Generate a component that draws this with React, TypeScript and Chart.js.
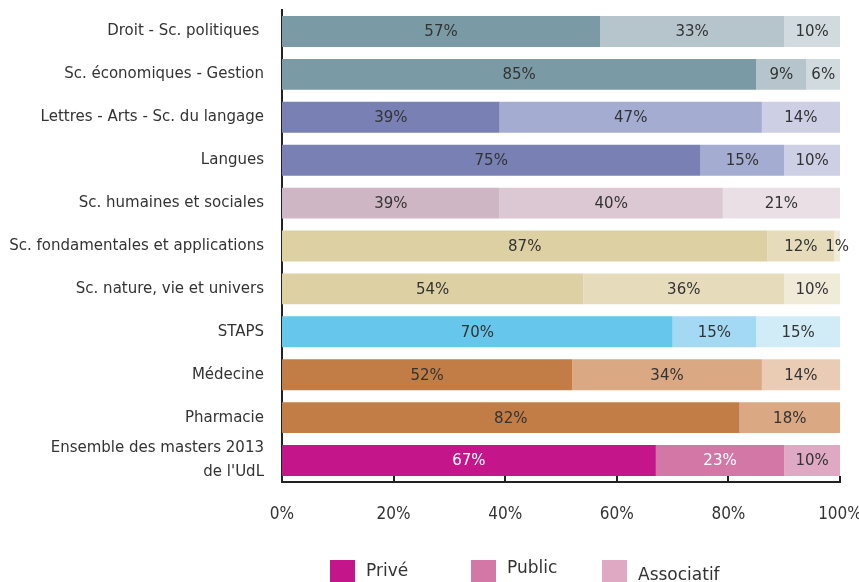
import React, { useEffect, useRef } from "react";
import { Chart, registerables } from "chart.js";

Chart.register(...registerables);

const categories: (string | string[])[] = [
  "Droit - Sc. politiques ",
  "Sc. économiques - Gestion",
  "Lettres - Arts - Sc. du langage",
  "Langues",
  "Sc. humaines et sociales",
  "Sc. fondamentales et applications",
  "Sc. nature, vie et univers",
  "STAPS",
  "Médecine",
  "Pharmacie",
  ["Ensemble des masters 2013", "de l'UdL"],
];

const seriesNames = ["Privé", "Public", "Associatif"];

const prive = [57, 85, 39, 75, 39, 87, 54, 70, 52, 82, 67];
const publicVals = [33, 9, 47, 15, 40, 12, 36, 15, 34, 18, 23];
const associatif = [10, 6, 14, 10, 21, 1, 10, 15, 14, 0, 10];

const xTicks = [0, 20, 40, 60, 80, 100];

const privColors = [
  "#7A9BA5", "#7A9BA5", "#7880B4", "#7880B4", "#CFB6C4", "#DDD0A3",
  "#DDD0A3", "#66C6EB", "#C27D46", "#C27D46", "#C4168A",
];
const pubColors = [
  "#B6C4CB", "#B6C4CB", "#A5ACD2", "#A5ACD2", "#DCC8D3", "#E6DCBC",
  "#E6DCBC", "#A3D9F3", "#DAA883", "#DAA883", "#D378A6",
];
const assocColors = [
  "#D1DBDF", "#D1DBDF", "#CDCFE5", "#CDCFE5", "#EADFE5", "#F0EAD8",
  "#F0EAD8", "#D1EBF7", "#EACCB5", "#EACCB5", "#DFA9C4",
];
const legendColors = ["#C4168A", "#D378A6", "#DFA9C4"];

const FONT = "'DejaVu Sans', Verdana, sans-serif";
const COND = "'DejaVu Sans Condensed', 'Liberation Sans Narrow', 'DejaVu Sans', sans-serif";

export default function App() {
  const ref = useRef<HTMLCanvasElement | null>(null);

  useEffect(() => {
    if (!ref.current) return;

    const labelPlugin = {
      id: "segLabels",
      afterDatasetsDraw(chart: any) {
        const ctx = chart.ctx;
        ctx.save();
        ctx.font = `15px ${FONT}`;
        ctx.textAlign = "center";
        ctx.textBaseline = "middle";
        chart.data.datasets.forEach((ds: any, di: number) => {
          const meta = chart.getDatasetMeta(di);
          meta.data.forEach((el: any, i: number) => {
            const v = ds.data[i];
            if (!v) return;
            const p = el.getProps(["x", "y", "base"], true);
            const last = i === ds.data.length - 1;
            ctx.fillStyle = last && di < 2 ? "#ffffff" : "#333333";
            ctx.fillText(`${v}%`, (p.x + p.base) / 2, p.y + 1);
          });
        });
        ctx.restore();
      },
    };

    const axisPlugin = {
      id: "axisTicks",
      afterDraw(chart: any) {
        const ctx = chart.ctx;
        const xs = chart.scales.x;
        const bottom = chart.chartArea.bottom;
        ctx.save();
        ctx.strokeStyle = "#222222";
        ctx.lineWidth = 2;
        xTicks.forEach((t) => {
          const px = Math.round(xs.getPixelForValue(t));
          ctx.beginPath();
          ctx.moveTo(px, bottom - 6);
          ctx.lineTo(px, bottom);
          ctx.stroke();
        });
        // legend
        const lx = [330, 471, 602];
        const ty = [572, 569, 576];
        ctx.font = `17px ${FONT}`;
        ctx.textBaseline = "middle";
        ctx.textAlign = "left";
        seriesNames.forEach((n, i) => {
          ctx.fillStyle = legendColors[i];
          ctx.fillRect(lx[i], 560, 25, 22);
          ctx.fillStyle = "#333333";
          ctx.fillText(n, lx[i] + 36, ty[i]);
        });
        ctx.restore();
      },
    };

    const chart = new Chart(ref.current, {
      type: "bar",
      data: {
        labels: categories,
        datasets: [
          { label: seriesNames[0], data: prive, backgroundColor: privColors },
          { label: seriesNames[1], data: publicVals, backgroundColor: pubColors },
          { label: seriesNames[2], data: associatif, backgroundColor: assocColors },
        ],
      },
      options: {
        indexAxis: "y",
        responsive: false,
        animation: false,
        layout: { padding: { top: 10, right: 19, bottom: 0, left: 0 } },
        datasets: {
          bar: { barPercentage: 0.72, categoryPercentage: 1, borderWidth: 0 },
        },
        plugins: {
          legend: { display: false },
          tooltip: { enabled: false },
        },
        scales: {
          x: {
            stacked: true,
            min: 0,
            max: 100,
            grid: { display: false, drawTicks: false },
            border: { display: true, color: "#222222", width: 2 },
            ticks: {
              stepSize: 20,
              padding: 22,
              color: "#333333",
              font: { family: COND, size: 17 },
              callback: (v: any) => `${v}%`,
            },
            afterFit: (s: any) => {
              s.height = 100;
              s.paddingLeft = 0;
              s.paddingRight = 0;
            },
          },
          y: {
            stacked: true,
            grid: { display: false, drawTicks: false },
            border: { display: true, color: "#222222", width: 2 },
            ticks: {
              autoSkip: false,
              padding: 18,
              color: "#333333",
              font: { family: FONT, size: 15, lineHeight: 1.6 },
            },
            afterFit: (s: any) => {
              s.width = 282;
              s.paddingTop = 0;
              s.paddingBottom = 0;
            },
          },
        },
      },
      plugins: [labelPlugin, axisPlugin],
    } as any);

    return () => chart.destroy();
  }, []);

  return (
    <div style={{ position: "absolute", left: 0, top: 0, width: 859, height: 582, background: "#ffffff" }}>
      <canvas ref={ref} width={859} height={582} style={{ display: "block" }} />
    </div>
  );
}
